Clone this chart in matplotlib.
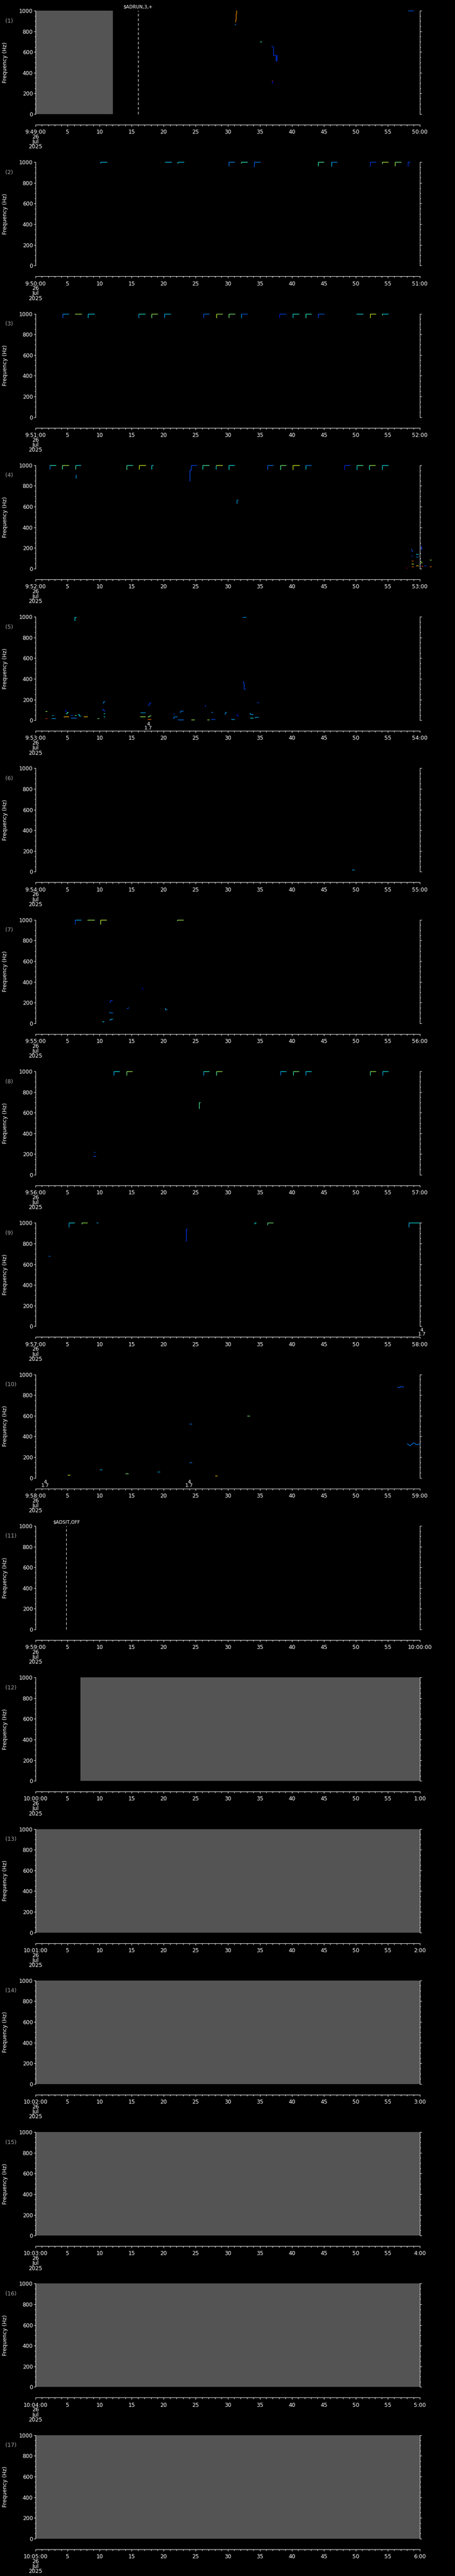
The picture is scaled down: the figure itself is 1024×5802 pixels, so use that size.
import matplotlib
matplotlib.use('Agg')
import matplotlib.pyplot as plt
from matplotlib.collections import LineCollection
from matplotlib.ticker import MultipleLocator, FixedLocator, FixedFormatter

# ---- panel timing (one minute per panel) ----
panel_starts = ['9:49:00', '9:50:00', '9:51:00', '9:52:00', '9:53:00', '9:54:00',
                '9:55:00', '9:56:00', '9:57:00', '9:58:00', '9:59:00', '10:00:00',
                '10:01:00', '10:02:00', '10:03:00', '10:04:00', '10:05:00']
panel_ends = ['50:00', '51:00', '52:00', '53:00', '54:00', '55:00', '56:00', '57:00',
              '58:00', '59:00', '10:00:00', '1:00', '2:00', '3:00', '4:00', '5:00', '6:00']
date_text = '26\nJul\n2025'

# ---- gray "no data" spans (panel number -> seconds) ----
gray_spans = {1: (0, 12.07), 12: (7.0, 60), 13: (0, 60), 14: (0, 60),
              15: (0, 60), 16: (0, 60), 17: (0, 60)}

# ---- event markers (panel, seconds, label) ----
event_panels = [1, 11]
event_times = [16.0, 4.8]
event_labels = ['$ADRUN,3,+', '$ADSIT,OFF']

# ---- small numeric annotations below the axis (panel, seconds, text) ----
note_panels = [5, 9, 10, 10]
note_times = [17.6, 60.3, 1.5, 24.0]
note_texts = ['4\n1.7', '4\n1.7', '4\n1.7', '4\n1.7']

# ---- tone steps rising to 1000 Hz: (t_start, t_end, f_start, c_vert, c_horiz) ----
p2_tops = [(10.1, 11.2, 990, 0.3, 0.33), (20.2, 21.2, 1000, 0.33, 0.33),
           (22.2, 23.2, 988, 0.4, 0.33), (30.15, 31.1, 961, 0.25, 0.28),
           (32.15, 33.1, 990, 0.45, 0.4), (34.15, 35.1, 954, 0.22, 0.25),
           (44.1, 45.05, 961, 0.4, 0.45), (46.2, 47.1, 960, 0.32, 0.27),
           (52.2, 53.1, 960, 0.18, 0.2), (54.1, 55.1, 985, 0.5, 0.58),
           (56.1, 57.1, 961, 0.55, 0.5), (58.1, 58.5, 960, 0.18, 0.2)]
p3_tops = [(4.2, 5.2, 959, 0.22, 0.3), (6.2, 7.2, 995, 0.55, 0.55),
           (8.2, 9.2, 959, 0.32, 0.35), (16.1, 17.1, 960, 0.3, 0.38),
           (18.1, 19.1, 960, 0.5, 0.55), (20.1, 21.1, 960, 0.3, 0.33),
           (26.2, 27.1, 960, 0.2, 0.25), (28.2, 29.2, 960, 0.6, 0.55),
           (30.15, 31.15, 960, 0.5, 0.5), (32.15, 33.1, 960, 0.3, 0.22),
           (38.1, 39.1, 960, 0.15, 0.2), (40.15, 41.1, 960, 0.35, 0.38),
           (42.15, 43.1, 960, 0.4, 0.4), (44.15, 45.1, 960, 0.2, 0.22),
           (50.1, 51.1, 1000, 0.36, 0.36), (52.2, 53.1, 960, 0.62, 0.6),
           (54.1, 55.1, 985, 0.5, 0.35)]
p4_tops = [(2.2, 3.2, 960, 0.25, 0.4), (4.15, 5.2, 960, 0.45, 0.55),
           (6.25, 7.1, 960, 0.45, 0.35), (14.2, 15.2, 955, 0.45, 0.4),
           (16.15, 17.2, 960, 0.62, 0.62), (18.1, 18.4, 960, 0.36, 0.36),
           (26.1, 27.15, 960, 0.38, 0.45), (28.15, 29.2, 962, 0.35, 0.6),
           (30.15, 31.05, 958, 0.36, 0.36), (36.2, 37.1, 958, 0.22, 0.25),
           (38.2, 39.1, 958, 0.45, 0.5), (40.15, 41.2, 958, 0.62, 0.62),
           (42.15, 43.1, 960, 0.35, 0.25), (48.2, 49.1, 958, 0.15, 0.18),
           (50.15, 51.1, 958, 0.35, 0.45), (52.1, 53.05, 958, 0.38, 0.55),
           (54.1, 55.05, 958, 0.35, 0.36)]
p7_tops = [(6.16, 7.16, 957, 0.2, 0.3), (8.1, 9.25, 995, 0.55, 0.55),
           (10.1, 11.1, 957, 0.58, 0.58), (22.15, 23.1, 990, 0.55, 0.55)]
p8_tops = [(12.2, 13.1, 960, 0.3, 0.36), (14.2, 15.1, 960, 0.5, 0.55),
           (26.2, 27.1, 960, 0.3, 0.4), (28.2, 29.1, 960, 0.45, 0.55),
           (38.2, 39.1, 960, 0.25, 0.35), (40.2, 41.1, 960, 0.4, 0.5),
           (42.2, 43.1, 960, 0.3, 0.36), (52.2, 53.1, 960, 0.45, 0.55),
           (54.2, 55.1, 960, 0.3, 0.36)]
p9_tops = [(5.2, 6.1, 960, 0.3, 0.36), (7.2, 8.1, 990, 0.5, 0.55),
           (34.2, 34.5, 990, 0.36, 0.36), (36.2, 37.1, 980, 0.45, 0.5),
           (58.3, 60.0, 960, 0.3, 0.36)]

# ---- flat tone segments: (t_start, t_end, freq, colour) ----
p5_flats = [(1.5, 1.8, 85, 0.55), (1.5, 1.8, 19, 0.85), (2.55, 2.8, 50, 0.36),
            (2.5, 3.1, 19, 0.3), (4.4, 5.2, 37, 0.7), (5.5, 5.8, 47, 0.2),
            (5.5, 6.4, 24, 0.25), (6.1, 6.4, 47, 0.45), (7.5, 8.1, 37, 0.7),
            (9.65, 9.9, 20, 0.5), (10.6, 10.8, 67, 0.36), (10.6, 10.8, 33, 0.36),
            (16.4, 17.1, 72, 0.3), (16.3, 17.1, 36, 0.55), (17.5, 18.0, 11, 0.8),
            (22.2, 23.1, 7, 0.25), (24.3, 24.8, 7, 0.55), (26.8, 27.1, 7, 0.55),
            (27.4, 27.7, 79, 0.25), (27.4, 28.0, 11, 0.2), (21.5, 21.7, 59, 0.2),
            (30.5, 31.05, 10, 0.3), (33.5, 34.0, 24, 0.36), (34.54, 34.8, 173, 0.2),
            (32.3, 32.9, 996, 0.28)]
p4_flats = [(57.8, 58.0, 9, 0.95), (58.7, 58.9, 123, 0.2), (58.7, 59.0, 47, 0.6),
            (58.7, 59.0, 21, 0.8), (59.4, 59.8, 142, 0.33), (59.4, 59.8, 30, 0.7),
            (60.2, 60.5, 26, 0.85), (60.7, 61.0, 30, 0.2), (61.5, 61.8, 86, 0.55),
            (61.5, 61.8, 21, 0.8)]
p1_flats = [(35.03, 35.3, 698, 0.4), (58.13, 59.05, 999, 0.22)]
p6_flats = [(49.4, 49.8, 20, 0.3)]
p7_flats = [(10.4, 10.7, 17, 0.36)]
p8_flats = [(9.0, 9.4, 180, 0.2), (9.1, 9.3, 220, 0.22)]
p9_flats = [(9.5, 9.8, 1000, 0.3), (2.0, 2.3, 680, 0.25)]
p10_flats = [(10.0, 10.4, 80, 0.3), (14.0, 14.5, 40, 0.5), (24.0, 24.4, 150, 0.25),
             (5.0, 5.4, 30, 0.6), (19.0, 19.4, 60, 0.3), (28.0, 28.4, 20, 0.7),
             (33.0, 33.4, 600, 0.5), (24.0, 24.4, 520, 0.25)]

# ---- free-form tone tracks: (times, freqs, colour) ----
p1_tracks = [
    ([31.12, 31.2, 31.2, 31.25, 31.25, 31.33, 31.33, 31.4],
     [893, 893, 912, 912, 971, 971, 999, 999], 0.75),
    ([31.1, 31.2, 31.3], [869, 865, 860], 0.25),
    ([36.83, 37.0, 37.13, 37.13, 37.48, 37.55, 37.55, 37.66, 37.66, 37.8],
     [656, 651, 651, 570, 570, 570, 516, 516, 568, 568], 0.18),
    ([36.9, 37.05], [320, 322], 0.85),
    ([36.95, 36.95], [320, 298], 0.12),
]
p4_tracks = [
    ([6.3, 6.3, 6.4], [910, 875, 875], 0.28),
    ([24.1, 24.1, 24.3, 24.3, 25.15], [845, 953, 953, 1000, 1000], 0.2),
    ([31.4, 31.4, 31.6], [632, 663, 663], 0.3),
    ([58.7, 58.75, 58.85, 58.9], [190, 175, 170, 162], 0.22),
    ([58.75, 58.8, 58.95], [70, 77, 77], 0.78),
    ([59.4, 59.5, 59.8], [110, 116, 116], 0.25),
    ([60.15, 60.2, 60.2, 60.4], [223, 223, 188, 188], 0.18),
    ([60.15, 60.2, 60.4], [73, 60, 56], 0.55),
]
p5_tracks = [
    ([4.6, 4.65, 4.65, 4.8], [98, 98, 88, 88], 0.15),
    ([4.7, 4.9, 4.9, 5.1], [65, 65, 76, 76], 0.4),
    ([6.6, 6.8, 6.8, 7.1], [55, 55, 42, 40], 0.35),
    ([10.5, 10.6, 10.6, 10.8], [170, 170, 180, 180], 0.28),
    ([10.5, 10.5, 10.65, 10.65, 10.8], [112, 100, 100, 90, 90], 0.2),
    ([6.1, 6.1, 6.4], [960, 998, 998], 0.35),
    ([17.5, 17.75, 17.75, 18.0], [148, 148, 170, 170], 0.18),
    ([17.5, 17.75, 17.75, 18.0], [36, 36, 45, 45], 0.5),
    ([21.5, 21.55, 21.55, 21.8, 22.1], [19, 19, 30, 33, 33], 0.27),
    ([22.5, 22.6, 22.6, 23.1], [76, 76, 86, 88], 0.25),
    ([26.4, 26.5, 26.5, 26.6], [134, 134, 145, 145], 0.18),
    ([29.5, 29.65, 29.65, 29.8], [62, 62, 79, 79], 0.28),
    ([31.4, 31.45, 31.45, 31.7], [61, 61, 44, 44], 0.15),
    ([32.3, 32.45, 32.45, 32.55, 32.55, 32.8], [374, 374, 351, 351, 303, 297], 0.2),
    ([33.4, 33.5, 33.5, 34.0], [70, 70, 57, 57], 0.3),
    ([34.2, 34.35, 34.35, 34.8], [28, 28, 31, 31], 0.3),
]
p7_tracks = [
    ([16.6, 16.7, 16.8], [344, 335, 327], 0.1),
    ([11.5, 11.65, 11.65, 12.0], [203, 203, 223, 223], 0.18),
    ([14.25, 14.4, 14.6], [146, 146, 150], 0.2),
    ([20.25, 20.25, 20.5], [150, 132, 132], 0.3),
    ([11.5, 11.6, 11.6, 12.05], [112, 112, 102, 102], 0.25),
    ([11.5, 11.7, 11.7, 12.05], [32, 32, 43, 43], 0.3),
]
p8_tracks = [([25.5, 25.5, 25.7], [640, 700, 700], 0.45)]
p9_tracks = [([23.5, 23.5, 23.7], [820, 940, 940], 0.18)]
p10_tracks = [([56.5, 56.8, 57.1, 57.5], [880, 870, 885, 875], 0.22),
              ([58.0, 58.5, 59.0, 59.5, 60.0], [330, 310, 340, 320, 330], 0.25)]

tops = {2: p2_tops, 3: p3_tops, 4: p4_tops, 7: p7_tops, 8: p8_tops, 9: p9_tops}
flats = {1: p1_flats, 4: p4_flats, 5: p5_flats, 6: p6_flats, 7: p7_flats,
         8: p8_flats, 9: p9_flats, 10: p10_flats}
tracks = {1: p1_tracks, 4: p4_tracks, 5: p5_tracks, 7: p7_tracks, 8: p8_tracks,
          9: p9_tracks, 10: p10_tracks}

W, H = 1024, 5802
n_panels = 17
panel_h = H / n_panels
PX = 72 / 100  # points per pixel
cmap = plt.get_cmap('jet')

plt.rcParams['font.family'] = ['DejaVu Sans']

fig = plt.figure(figsize=(W / 100, H / 100), dpi=100, facecolor='black')


def draw_line(ax, ts, fs, c):
    segs = [[(ts[k], fs[k]), (ts[k + 1], fs[k + 1])] for k in range(len(ts) - 1)]
    lc = LineCollection(segs, colors=[cmap(c)], linewidths=1.3 * PX, clip_on=False)
    ax.add_collection(lc)


for i in range(n_panels):
    p = i + 1
    top_px = 24 + i * panel_h
    ax = fig.add_axes([80 / W, 1 - (top_px + 233) / H, 865 / W, 233 / H])
    ax.set_facecolor('black')
    ax.set_xlim(0, 60)
    ax.set_ylim(0, 1000)

    for side in ['left', 'right', 'bottom']:
        ax.spines[side].set_color('white')
        ax.spines[side].set_linewidth(1.0 * PX)
    ax.spines['top'].set_visible(False)
    ax.spines['bottom'].set_position(('outward', 24 * PX))

    ax.yaxis.set_major_locator(MultipleLocator(200))
    ax.yaxis.set_minor_locator(MultipleLocator(50))
    ax.xaxis.set_major_locator(FixedLocator(list(range(0, 61, 5))))
    ax.xaxis.set_minor_locator(MultipleLocator(1))
    xlabels = [panel_starts[i]] + [str(s) for s in range(5, 60, 5)] + [panel_ends[i]]
    ax.xaxis.set_major_formatter(FixedFormatter(xlabels))

    ax.tick_params(axis='both', which='both', direction='out', colors='white',
                   width=1.0 * PX, labelsize=8.8)
    ax.tick_params(axis='y', which='both', left=True, right=True, labelright=False)
    ax.tick_params(axis='y', which='major', length=4 * PX, pad=1.5)
    ax.tick_params(axis='y', which='minor', length=2.2 * PX)
    ax.tick_params(axis='x', which='major', length=4 * PX, pad=4.5)
    ax.tick_params(axis='x', which='minor', length=2.6 * PX)

    ax.annotate(date_text, xy=(0, 0), xycoords=('data', 'axes fraction'),
                xytext=(0, -45), textcoords='offset pixels', ha='center', va='top',
                fontsize=8.8, color='white', linespacing=0.82, annotation_clip=False)

    ax.text(-68 / 865, 0.5, 'Frequency (Hz)', transform=ax.transAxes, rotation=90,
            ha='center', va='center', fontsize=8.8, color='white')
    ax.text(-68 / 865, 1 - 23 / 233, '(%d)' % p, transform=ax.transAxes,
            ha='left', va='center', fontsize=8.8, color='#a8a8a8')

    if p in gray_spans:
        t0, t1 = gray_spans[p]
        ax.fill_between([t0, t1], 0, 1000, color='#545454', linewidth=0, zorder=0.5)

    for ep, et, el in zip(event_panels, event_times, event_labels):
        if ep == p:
            ax.plot([et, et], [0, 1000], color='white', linewidth=1.0 * PX,
                    dashes=(6, 4.5), clip_on=False)
            ax.annotate(el, xy=(et, 1), xycoords=('data', 'axes fraction'),
                        xytext=(0, 8), textcoords='offset pixels', ha='center',
                        va='center', fontsize=7.5, color='white')

    for np_, nt, ntext in zip(note_panels, note_times, note_texts):
        if np_ == p:
            ax.annotate(ntext, xy=(nt, 0), xycoords=('data', 'axes fraction'),
                        xytext=(0, -4), textcoords='offset pixels', ha='center',
                        va='top', fontsize=8, color='white', linespacing=0.85,
                        annotation_clip=False)

    for t0, t1, f0, cv, ch in tops.get(p, []):
        draw_line(ax, [t0, t0], [f0, 1000], cv)
        draw_line(ax, [t0, t1], [1000, 1000], ch)
    for t0, t1, f, c in flats.get(p, []):
        draw_line(ax, [t0, t1], [f, f], c)
    for ts, fs, c in tracks.get(p, []):
        draw_line(ax, ts, fs, c)

fig.savefig('out.png', dpi=100, facecolor='black')
